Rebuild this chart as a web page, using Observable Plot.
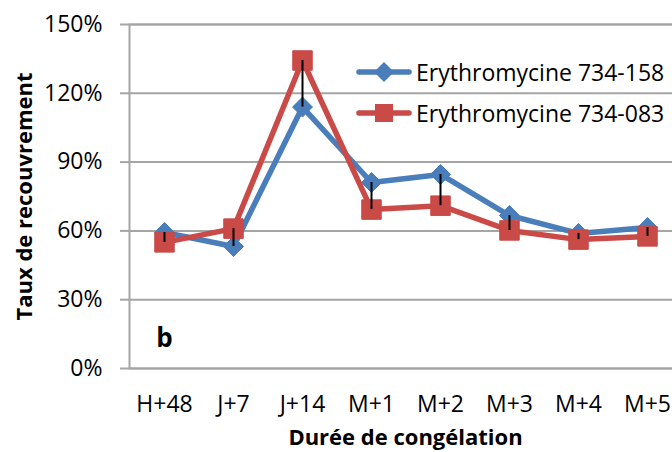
<!DOCTYPE html>
<html>
<head>
<meta charset="utf-8">
<script src="https://cdn.jsdelivr.net/npm/d3@7"></script>
<script src="https://cdn.jsdelivr.net/npm/@observablehq/plot@0.6"></script>
<style>
  html, body { margin: 0; padding: 0; background: #fff; overflow: hidden; }
  #wrap { position: relative; width: 672px; height: 452px; overflow: hidden; }
  #wrap > svg { max-width: none !important; display: block; }
  #legend { position: absolute; left: 356px; top: 51px; font-family: 'Open Sans', sans-serif; font-size: 23px; color: #000; }
  #legend .row { display: flex; align-items: center; height: 41px; white-space: nowrap; }
  #legend svg { display: block; margin-right: 4px; }
</style>
</head>
<body>
<div id="wrap"><div id="legend"></div></div>
<script>
const categories = ["H+48", "J+7", "J+14", "M+1", "M+2", "M+3", "M+4", "M+5"];
const seriesNames = ["Erythromycine 734-158", "Erythromycine 734-083"];
const values158 = [0.593, 0.532, 1.14, 0.811, 0.846, 0.667, 0.589, 0.615];
const values083 = [0.55, 0.61, 1.343, 0.693, 0.71, 0.602, 0.562, 0.576];
const yTicks = [0, 0.3, 0.6, 0.9, 1.2, 1.5];
const xTitle = "Durée de congélation";
const yTitle = "Taux de recouvrement";
const panelLabel = "b";

const blue = "#4a7ebb";
const red = "#c94a47";
const grid = "#a5a5a5";

const d158 = categories.map((c, i) => ({cat: c, v: values158[i]}));
const d083 = categories.map((c, i) => ({cat: c, v: values083[i]}));
const hiLo = categories.map((c, i) => ({cat: c, lo: Math.min(values158[i], values083[i]), hi: Math.max(values158[i], values083[i])}));

const chart = Plot.plot({
  width: 690,
  height: 452,
  marginLeft: 129,
  marginRight: 9,
  marginTop: 24,
  marginBottom: 84,
  style: {fontFamily: "'Open Sans', sans-serif", fontSize: "23px", color: "#000", background: "#fff", maxWidth: "none"},
  x: {type: "point", domain: categories, padding: 0.5, align: 0.5, label: null},
  y: {domain: [0, 1.5], label: null},
  marks: [
    Plot.ruleY(yTicks, {stroke: grid, strokeWidth: 2}),
    Plot.frame({stroke: grid, strokeWidth: 2}),
    Plot.axisY({ticks: yTicks, tickFormat: d => Math.round(d * 100) + "%", tickSize: 9, tickPadding: 18, stroke: grid, strokeWidth: 2, fontSize: 23, label: null}),
    Plot.axisX({tickSize: 0, tickPadding: 27, fontSize: 23, label: null}),
    Plot.line(d158, {x: "cat", y: "v", stroke: blue, strokeWidth: 5.5, strokeLinejoin: "round", strokeLinecap: "round"}),
    Plot.dot(d158, {x: "cat", y: "v", symbol: "diamond2", r: 9, fill: blue, stroke: blue, strokeWidth: 1}),
    Plot.line(d083, {x: "cat", y: "v", stroke: red, strokeWidth: 5.5, strokeLinejoin: "round", strokeLinecap: "round"}),
    Plot.dot(d083, {x: "cat", y: "v", symbol: "square", r: 11, fill: red, stroke: red, strokeWidth: 1}),
    Plot.ruleX(hiLo, {x: "cat", y1: "lo", y2: "hi", stroke: "#000", strokeWidth: 2}),
    Plot.text([panelLabel], {frameAnchor: "bottom-left", dx: 35, dy: -30, text: d => d, textAnchor: "middle", lineAnchor: "middle", fontSize: 26, fontWeight: "bold", fill: "#000"}),
    Plot.text([xTitle], {frameAnchor: "bottom", dy: 69, text: d => d, lineAnchor: "middle", fontSize: 22, fontWeight: "bold", fill: "#000"}),
    Plot.text([yTitle], {frameAnchor: "left", dx: -105, rotate: -90, text: d => d, textAnchor: "middle", lineAnchor: "middle", fontSize: 22, fontWeight: "bold", fill: "#000"})
  ]
});
chart.style.maxWidth = "none";
document.getElementById("wrap").prepend(chart);

// legend
const legend = d3.select("#legend");
const legendItems = [
  {name: seriesNames[0], color: blue, symbol: d3.symbolDiamond2, size: Math.PI * 9 * 9},
  {name: seriesNames[1], color: red, symbol: d3.symbolSquare, size: 18 * 18}
];
for (const item of legendItems) {
  const row = legend.append("div").attr("class", "row");
  const svg = row.append("svg").attr("width", 56).attr("height", 24);
  svg.append("line").attr("x1", 3).attr("x2", 53).attr("y1", 12).attr("y2", 12)
    .attr("stroke", item.color).attr("stroke-width", 5.5).attr("stroke-linecap", "round");
  svg.append("path").attr("d", d3.symbol(item.symbol, item.size)()).attr("transform", "translate(28,12)")
    .attr("fill", item.color);
  row.append("span").text(item.name);
}
</script>
</body>
</html>
